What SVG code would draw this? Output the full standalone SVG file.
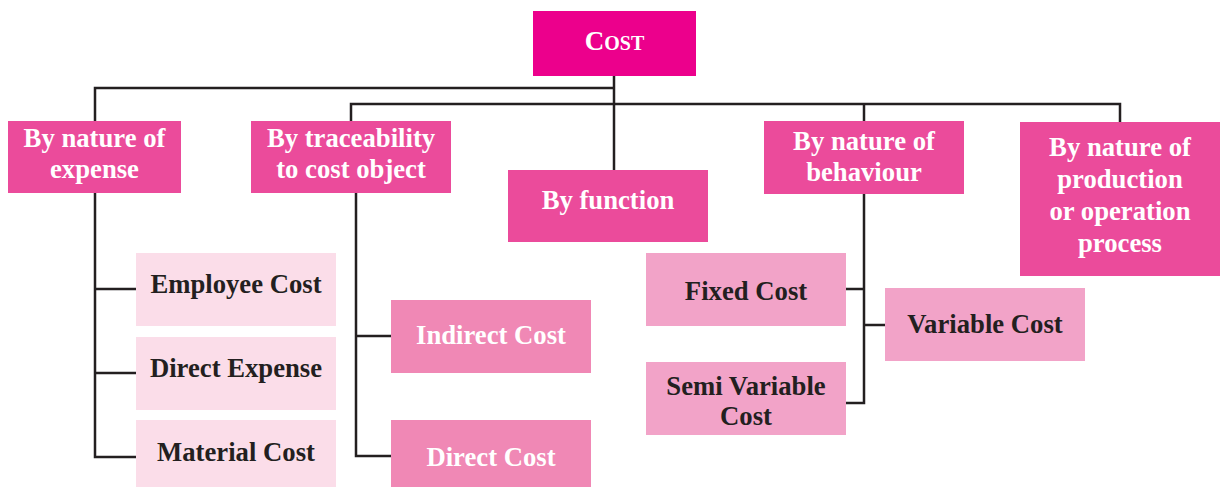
<svg xmlns="http://www.w3.org/2000/svg" width="1220" height="487" viewBox="0 0 1220 487">
  <style>
    text { font-family: "Liberation Serif", "Times New Roman", serif; font-weight: bold; font-size: 26.7px; text-anchor: middle; }
    .light { fill: #ffffff; }
    .dark { fill: #231f20; }
    .root { fill: #ec008c; }
    .cat { fill: #eb4b9b; }
    .mid { fill: #f088b5; }
    .soft { fill: #f2a3c8; }
    .pale { fill: #fbdde9; }
    #connectors path { fill: none; stroke: #231f20; stroke-width: 2.5; }
  </style>

  <!-- connectors -->
  <g id="connectors">
    <path d="M614 76 V170"/>
    <path d="M95 121 V88 H614"/>
    <path d="M351 121 V104 H1120 V122"/>
    <path d="M864 104 V121"/>
    <!-- by nature of expense -->
    <path d="M95 193 V457 H136 M95 289 H136 M95 373 H136"/>
    <!-- by traceability -->
    <path d="M356 193 V456 H391 M356 336 H391"/>
    <!-- by nature of behaviour -->
    <path d="M864 194 V403 H846 M846 289 H864 M864 325 H885"/>
  </g>

  <!-- root -->
  <g id="cost">
    <rect class="root" x="533" y="11" width="163" height="65"/>
    <text class="light" x="614.5" y="50"><tspan font-size="27">C</tspan><tspan font-size="20">OST</tspan></text>
  </g>

  <!-- categories -->
  <g id="nature-of-expense">
    <rect class="cat" x="8" y="121" width="173" height="72"/>
    <text class="light" x="94.5" y="147">By nature of</text>
    <text class="light" x="94.5" y="178">expense</text>
  </g>
  <g id="traceability">
    <rect class="cat" x="251" y="121" width="200" height="72"/>
    <text class="light" x="351" y="147">By traceability</text>
    <text class="light" x="351" y="178">to cost object</text>
  </g>
  <g id="by-function">
    <rect class="cat" x="508" y="170" width="200" height="72"/>
    <text class="light" x="608" y="209">By function</text>
  </g>
  <g id="nature-of-behaviour">
    <rect class="cat" x="764" y="121" width="200" height="73"/>
    <text class="light" x="864" y="150">By nature of</text>
    <text class="light" x="864" y="181">behaviour</text>
  </g>
  <g id="nature-of-production">
    <rect class="cat" x="1020" y="122" width="200" height="154"/>
    <text class="light" x="1120" y="156">By nature of</text>
    <text class="light" x="1120" y="188">production</text>
    <text class="light" x="1120" y="220">or operation</text>
    <text class="light" x="1120" y="252">process</text>
  </g>

  <!-- expense items -->
  <g id="employee-cost">
    <rect class="pale" x="136" y="253" width="200" height="73"/>
    <text class="dark" x="236" y="293">Employee Cost</text>
  </g>
  <g id="direct-expense">
    <rect class="pale" x="136" y="337" width="200" height="73"/>
    <text class="dark" x="236" y="377">Direct Expense</text>
  </g>
  <g id="material-cost">
    <rect class="pale" x="136" y="420" width="200" height="73"/>
    <text class="dark" x="236" y="461">Material Cost</text>
  </g>

  <!-- traceability items -->
  <g id="indirect-cost">
    <rect class="mid" x="391" y="300" width="200" height="73"/>
    <text class="light" x="491" y="344">Indirect Cost</text>
  </g>
  <g id="direct-cost">
    <rect class="mid" x="391" y="420" width="200" height="73"/>
    <text class="light" x="491" y="466">Direct Cost</text>
  </g>

  <!-- behaviour items -->
  <g id="fixed-cost">
    <rect class="soft" x="646" y="253" width="200" height="73"/>
    <text class="dark" x="746" y="300">Fixed Cost</text>
  </g>
  <g id="variable-cost">
    <rect class="soft" x="885" y="288" width="200" height="73"/>
    <text class="dark" x="985" y="333">Variable Cost</text>
  </g>
  <g id="semi-variable-cost">
    <rect class="soft" x="646" y="362" width="200" height="73"/>
    <text class="dark" x="746" y="395">Semi Variable</text>
    <text class="dark" x="746" y="425">Cost</text>
  </g>
</svg>
